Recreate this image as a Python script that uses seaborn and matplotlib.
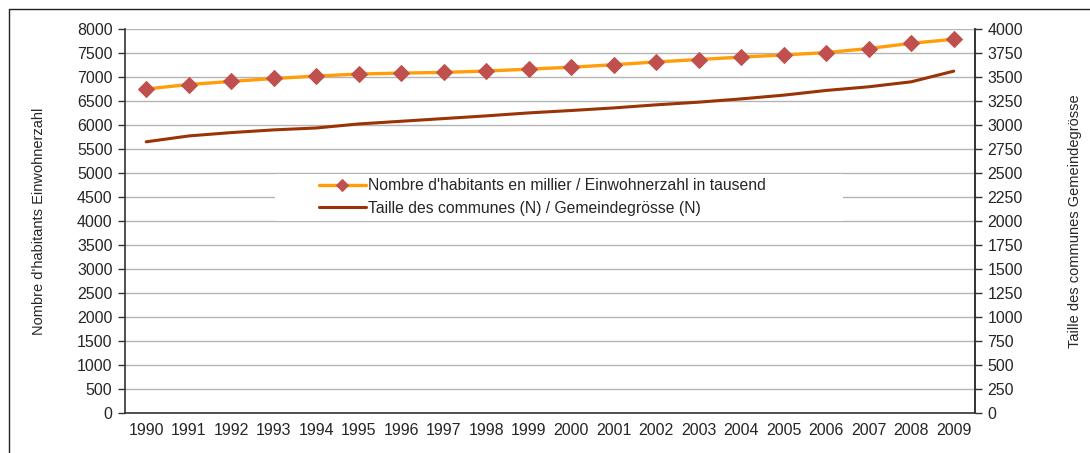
import matplotlib
matplotlib.use("Agg")
import matplotlib.pyplot as plt
from matplotlib.lines import Line2D
from matplotlib.patches import Rectangle
import seaborn as sns
import pandas as pd

# données
years = list(range(1990, 2010))
habitants = [6751, 6843, 6908, 6969, 7019, 7062, 7081, 7096, 7124, 7164,
             7204, 7256, 7314, 7364, 7415, 7459, 7509, 7593, 7702, 7786]
taille = [2825, 2886, 2921, 2949, 2969, 3011, 3039, 3067, 3095, 3126,
          3151, 3178, 3210, 3238, 3272, 3311, 3360, 3398, 3450, 3561]

lab_hab = "Nombre d'habitants en millier / Einwohnerzahl in tausend"
lab_taille = "Taille des communes (N) / Gemeindegrösse (N)"

df = pd.DataFrame({"annee": years, "habitants": habitants, "taille": taille})

sns.set_style("white")
plt.rcParams['font.family'] = ['Liberation Sans', 'DejaVu Sans']
plt.rcParams['font.size'] = 11.5

orange = "#FF9E0A"
diamant = "#C0504D"
brun = "#9A3306"

fig = plt.figure(figsize=(10.9, 4.53), dpi=100)
ax = fig.add_axes([125/1090, 1-413/453, 850/1090, 384/453])
ax2 = ax.twinx()

sns.lineplot(data=df, x="annee", y="habitants", ax=ax, color=orange, lw=2.4,
             marker="D", markersize=8.5, markerfacecolor=diamant,
             markeredgecolor=diamant, label=lab_hab, legend=False)
sns.lineplot(data=df, x="annee", y="taille", ax=ax2, color=brun, lw=2.2,
             label=lab_taille, legend=False)

ax.set_ylim(0, 8000)
ax.set_yticks(range(0, 8001, 500))
ax2.set_ylim(0, 4000)
ax2.set_yticks(range(0, 4001, 250))
ax.set_xlim(1989.5, 2009.5)
ax.set_xticks(years)
ax.set_xticks([y - 0.5 for y in years] + [2009.5], minor=True)
ax.tick_params(axis="x", which="major", length=0, pad=7, labelsize=11.5)
ax.tick_params(axis="x", which="minor", length=5, width=1, color="#333333", direction="out")
ax.tick_params(axis="y", length=5, width=1, color="#333333", direction="out", pad=4, labelsize=11.5)
ax2.tick_params(axis="y", length=5, width=1, color="#333333", direction="out", pad=4, labelsize=11.5)

ax.yaxis.grid(True, color="#B4B4B4", lw=1)
ax.set_axisbelow(True)

for a in (ax, ax2):
    a.spines["top"].set_visible(False)
    for s in ("left", "right", "bottom"):
        a.spines[s].set_color("#333333")
        a.spines[s].set_linewidth(1.2)
ax2.spines["left"].set_visible(False)
ax2.spines["bottom"].set_visible(False)

ax.set_xlabel("")
ax.set_ylabel("Nombre d'habitants Einwohnerzahl", fontsize=10.5)
ax.yaxis.set_label_coords(-0.093, 0.5)
ax2.set_ylabel("Taille des communes Gemeindegrösse", fontsize=10.5)
ax2.yaxis.set_label_coords(1.109, 0.5)

# fond blanc de la légende
ax2.add_patch(Rectangle((150/850, (413-221)/384), (843-275)/850, 47/384,
                        transform=ax2.transAxes, facecolor="white",
                        edgecolor="none", zorder=5))
h1, l1 = ax.get_legend_handles_labels()
h2, l2 = ax2.get_legend_handles_labels()
leg = ax2.legend(h1 + h2, l1 + l2, loc="center left",
                 bbox_to_anchor=((318-125)/850 - 0.016, (413-197)/384),
                 frameon=False, fontsize=11.3, handlelength=3.0,
                 handletextpad=0.15, labelspacing=0.5, markerscale=0.7)
leg.set_zorder(6)

# cadre extérieur
fig.add_artist(Line2D([9/1090, 9/1090], [0, 1-9/453], color="#222222", lw=1))
fig.add_artist(Line2D([9/1090, 1], [1-9/453, 1-9/453], color="#222222", lw=1))

fig.savefig("out.png", dpi=100)
